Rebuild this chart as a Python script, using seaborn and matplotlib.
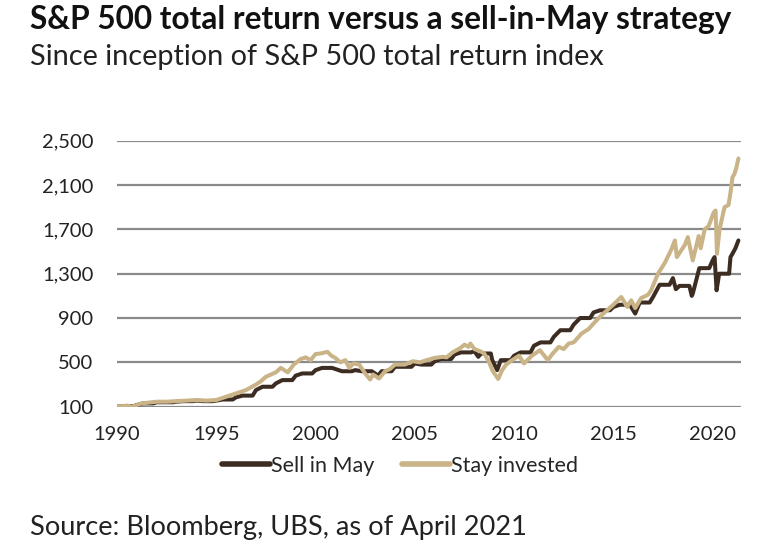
import matplotlib
matplotlib.use("Agg")
import matplotlib.pyplot as plt
import seaborn as sns
import pandas as pd
from matplotlib.lines import Line2D

# ---- data ----
sim_t = [1990.0, 1990.33, 1990.83, 1991.0, 1991.33, 1991.83, 1992.0, 1992.33, 1992.83,
         1993.0, 1993.33, 1993.83, 1994.0, 1994.33, 1994.83, 1995.0, 1995.33, 1995.83,
         1996.0, 1996.33, 1996.83, 1997.0, 1997.33, 1997.83, 1998.0, 1998.33, 1998.83,
         1999.0, 1999.33, 1999.83, 2000.0, 2000.33, 2000.83, 2001.0, 2001.33, 2001.83,
         2002.0, 2002.33, 2002.83, 2003.0, 2003.15, 2003.33, 2003.83, 2004.0, 2004.33, 2004.83,
         2005.0, 2005.33, 2005.83, 2006.0, 2006.33, 2006.83, 2007.0, 2007.33, 2007.83,
         2008.0, 2008.2, 2008.33, 2008.83, 2008.9, 2009.15, 2009.33, 2009.83,
         2010.0, 2010.33, 2010.83, 2011.0, 2011.33, 2011.83, 2012.0, 2012.33, 2012.83,
         2013.0, 2013.33, 2013.83, 2014.0, 2014.33, 2014.83, 2015.0, 2015.33, 2015.83,
         2016.0, 2016.1, 2016.33, 2016.83, 2017.0, 2017.33, 2017.83, 2018.0, 2018.15, 2018.33, 2018.83,
         2018.95, 2019.0, 2019.33, 2019.83, 2020.0, 2020.1, 2020.2, 2020.33, 2020.83,
         2020.9, 2021.0, 2021.15, 2021.3]
sim_v = [100, 105, 105, 115, 130, 130, 140, 140, 140,
         145, 150, 150, 155, 150, 150, 155, 165, 165,
         185, 200, 200, 250, 280, 280, 310, 340, 340,
         380, 400, 400, 430, 450, 450, 440, 420, 420,
         430, 420, 420, 400, 380, 420, 420, 460, 460, 460,
         490, 480, 480, 510, 530, 530, 570, 590, 590,
         600, 550, 580, 580, 520, 430, 520, 520,
         560, 590, 590, 650, 680, 680, 730, 790, 790,
         840, 900, 900, 950, 970, 970, 1000, 1020, 1020,
         970, 940, 1040, 1040, 1090, 1200, 1200, 1260, 1160, 1190, 1190,
         1100, 1120, 1350, 1350, 1420, 1450, 1150, 1300, 1300,
         1450, 1480, 1530, 1600]

stay_t = [1990.0, 1990.25, 1990.5, 1990.75, 1991.0, 1991.25, 1991.5, 1991.75, 1992.0, 1992.5,
          1993.0, 1993.5, 1994.0, 1994.5, 1995.0, 1995.5, 1996.0, 1996.5, 1997.0, 1997.25,
          1997.5, 1997.75, 1998.0, 1998.25, 1998.6, 1998.9, 1999.25, 1999.5, 1999.75, 2000.0,
          2000.25, 2000.6, 2000.8, 2001.0, 2001.25, 2001.5, 2001.7, 2001.9, 2002.2, 2002.5,
          2002.75, 2002.9, 2003.2, 2003.5, 2003.75, 2004.0, 2004.5, 2004.9, 2005.25, 2005.6,
          2006.0, 2006.4, 2006.6, 2006.9, 2007.3, 2007.5, 2007.7, 2007.8, 2008.0, 2008.3,
          2008.5, 2008.75, 2008.9, 2009.2, 2009.4, 2009.6, 2009.9, 2010.25, 2010.5, 2010.9,
          2011.3, 2011.7, 2011.9, 2012.25, 2012.5, 2012.75, 2013.0, 2013.4, 2013.75, 2014.0,
          2014.4, 2014.75, 2015.0, 2015.4, 2015.7, 2015.9, 2016.1, 2016.4, 2016.75, 2016.9,
          2017.25, 2017.6, 2017.9, 2018.1, 2018.2, 2018.6, 2018.75, 2019.0, 2019.3, 2019.4,
          2019.6, 2019.8, 2020.05, 2020.15, 2020.22, 2020.35, 2020.6, 2020.8, 2020.9, 2021.0,
          2021.1, 2021.2, 2021.3]
stay_v = [100, 105, 110, 100, 115, 130, 135, 140, 145, 145,
          150, 155, 160, 155, 160, 190, 220, 250, 300, 330,
          370, 390, 410, 450, 410, 480, 530, 545, 520, 575,
          580, 595, 560, 540, 500, 520, 450, 490, 480, 400,
          345, 390, 355, 420, 440, 480, 480, 510, 500, 520,
          540, 550, 545, 590, 630, 660, 640, 670, 620, 600,
          580, 500, 430, 350, 430, 480, 520, 560, 490, 560,
          610, 520, 570, 640, 620, 670, 680, 760, 800, 850,
          925, 980, 1020, 1090, 1000, 1060, 990, 1080, 1110, 1150,
          1300, 1400, 1510, 1600, 1450, 1560, 1630, 1420, 1640, 1530,
          1700, 1730, 1850, 1870, 1480, 1700, 1900, 1920, 2030, 2170,
          2200, 2260, 2340]

series_names = ["Sell in May", "Stay invested"]
y_ticks = [100, 500, 900, 1300, 1700, 2100, 2500]
x_ticks = [1990, 1995, 2000, 2005, 2010, 2015, 2020]

df = pd.concat([
    pd.DataFrame({"year": sim_t, "value": sim_v, "series": series_names[0]}),
    pd.DataFrame({"year": stay_t, "value": stay_v, "series": series_names[1]}),
], ignore_index=True)

sns.set_theme(style="white")
plt.rcParams["font.family"] = ["Lato", "DejaVu Sans"]

fig = plt.figure(figsize=(7.68, 5.57), dpi=100)
ax = fig.add_axes([117 / 768, 1 - 406.7 / 557, (741 - 117) / 768, (406.7 - 140.7) / 557])

palette = {"Sell in May": "#3d2c22", "Stay invested": "#c9b387"}
sns.lineplot(data=df, x="year", y="value", hue="series", hue_order=series_names,
             palette=palette, linewidth=2.9, ax=ax, legend=False, sort=False,
             estimator=None)

ax.set_xlim(1990, 2021.43)
ax.set_ylim(100, 2500)
ax.set_yticks(y_ticks)
ax.set_yticklabels([f"{v:,}" for v in y_ticks])
ax.set_xticks(x_ticks)
ax.set_xticklabels([str(v) for v in x_ticks])
ax.grid(axis="y", color="#8a8a8a", linewidth=1.6)
ax.set_axisbelow(True)
for s in ax.spines.values():
    s.set_visible(False)
ax.tick_params(axis="both", length=0, labelsize=14.5, colors="#222222")
ax.tick_params(axis="y", pad=17)
ax.tick_params(axis="x", pad=14)
ax.set_xlabel("")
ax.set_ylabel("")

handles = [Line2D([], [], color=palette[n], linewidth=4) for n in series_names]
fig.legend(handles, series_names, loc="center", bbox_to_anchor=(400 / 768, 1 - 466 / 557),
           ncol=2, frameon=False, fontsize=15.5, handlelength=2.2, handletextpad=0.05,
           columnspacing=1.3)

fig.text(30 / 768, 1 - 28.5 / 557, "S&P 500 total return versus a sell-in-May strategy",
         fontsize=22.8, fontweight="bold", va="baseline", ha="left", color="#111111")
fig.text(30 / 768, 1 - 65 / 557, "Since inception of S&P 500 total return index",
         fontsize=20.8, va="baseline", ha="left", color="#222222")
fig.text(30 / 768, 1 - 535 / 557, "Source: Bloomberg, UBS, as of April 2021",
         fontsize=19.6, va="baseline", ha="left", color="#222222")

fig.savefig("out.png", dpi=100, facecolor="white")
